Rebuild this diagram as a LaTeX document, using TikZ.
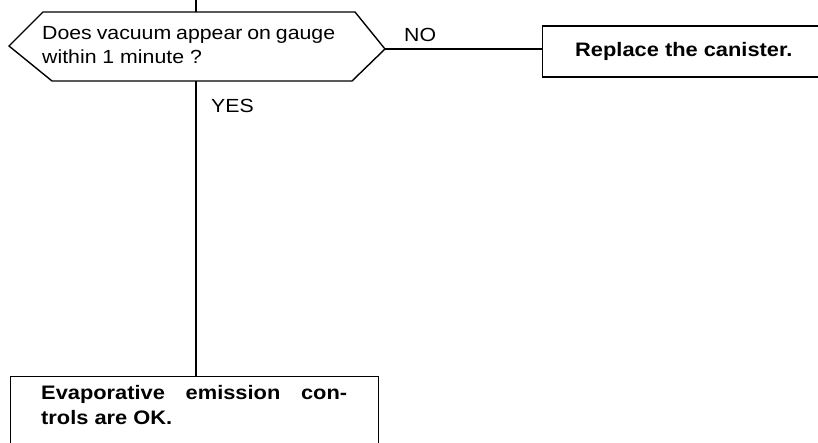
\documentclass[tikz,border=0pt]{standalone}
\usepackage{fontspec}
\setmainfont[FakeStretch=1.12]{Liberation Sans}
\begin{document}
\begin{tikzpicture}[x=1pt,y=-1pt,
  line/.style={line width=1.4pt},
  txt/.style={inner sep=0pt,font=\fontsize{19}{24}\selectfont,align=left},
  btxt/.style={inner sep=0pt,font=\fontsize{19.5}{25}\selectfont\bfseries,align=left},
  lbl/.style={inner sep=0pt,font=\fontsize{19}{22}\selectfont}]
\useasboundingbox (0,0) rectangle (818,443);
\clip (0,0) rectangle (818,443);
% decision hexagon
\coordinate (htop) at (196,12);
\coordinate (hbot) at (196,81);
\coordinate (hleft) at (9,46);
\coordinate (hright) at (385,49);
\draw[line] (43,12) -- (355,12) -- (hright) -- (352,81) -- (52,81) -- (hleft) -- cycle;
\node[txt,anchor=base west] (q) at (42,64) {\makebox[293pt][s]{Does vacuum appear on gauge}\\within 1 minute ?};
% incoming line
\coordinate (in) at (196,-5);
\draw[line] (in) -- (htop);
% NO branch
\node[draw,line,minimum width=300pt,minimum height=51pt,anchor=west,inner sep=0pt] (rep) at (542,51.5) {};
\node[btxt,anchor=west] (reptxt) at (575,51.5) {Replace the canister.};
\draw[line] (hright) -- (hright -| rep.west);
\node[lbl,anchor=base west] (no) at (404,42) {NO};
% YES branch
\node[draw,line,minimum width=368pt,minimum height=100pt,anchor=north west,inner sep=0pt] (ok) at (10,376) {};
\node[btxt,anchor=base west] (oktxt) at (41,424) {\makebox[306pt][s]{Evaporative emission con-}\\trols are OK.};
\draw[line] (hbot) -- (hbot |- ok.north);
\node[lbl,anchor=base west] (yes) at (211,113) {YES};
\end{tikzpicture}
\end{document}
